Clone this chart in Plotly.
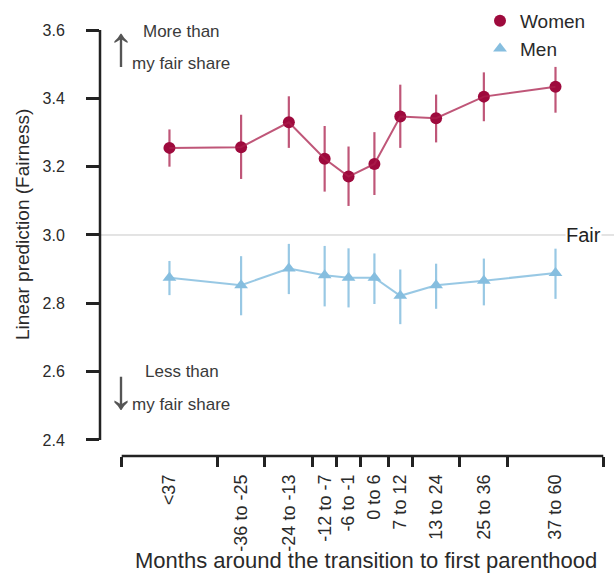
import plotly.graph_objects as go

# ---- data ----
bin_edges = [-60, -36, -24, -12, -6, 0, 7, 13, 25, 37, 61]
tick_labels = ["<37", "-36 to -25", "-24 to -13", "-12 to -7", "-6 to -1",
               "0 to 6", "7 to 12", "13 to 24", "25 to 36", "37 to 60"]

women = [3.255, 3.257, 3.330, 3.223, 3.171, 3.208, 3.347, 3.342, 3.405, 3.434]
women_lo = [3.200, 3.164, 3.255, 3.127, 3.085, 3.117, 3.255, 3.271, 3.333, 3.358]
women_hi = [3.309, 3.352, 3.406, 3.319, 3.259, 3.301, 3.440, 3.411, 3.476, 3.492]

men = [2.875, 2.853, 2.902, 2.882, 2.875, 2.875, 2.822, 2.853, 2.866, 2.889]
men_lo = [2.824, 2.765, 2.827, 2.791, 2.788, 2.798, 2.739, 2.784, 2.794, 2.813]
men_hi = [2.924, 2.938, 2.974, 2.968, 2.961, 2.946, 2.899, 2.916, 2.931, 2.960]

y_ticks = [2.4, 2.6, 2.8, 3.0, 3.2, 3.4, 3.6]
fair_value = 3.0

# ---- derived ----
mids = [(a + b) / 2 for a, b in zip(bin_edges[:-1], bin_edges[1:])]

W_MARK = "#9E0A3D"
W_LINE = "rgba(170,30,75,0.75)"
M_MARK = "#86BEDF"
M_LINE = "rgba(134,190,223,0.85)"
FONT = "Liberation Sans, Arial, sans-serif"
TXT = "#2a2a2a"

XR = [-65.45, 63.7]
YR = [2.3531, 3.6293]

fig = go.Figure()

fig.add_trace(go.Scatter(x=mids, y=women, mode="lines", xaxis="x2",
                         line=dict(color=W_LINE, width=2), showlegend=False,
                         hoverinfo="skip"))
fig.add_trace(go.Scatter(x=mids, y=men, mode="lines", xaxis="x2",
                         line=dict(color=M_LINE, width=2), showlegend=False,
                         hoverinfo="skip"))

fig.add_trace(go.Scatter(
    x=mids, y=women, mode="markers", name="Women",
    marker=dict(symbol="circle", size=12, color=W_MARK),
    error_y=dict(type="data", symmetric=False,
                 array=[h - v for h, v in zip(women_hi, women)],
                 arrayminus=[v - l for v, l in zip(women, women_lo)],
                 color=W_LINE, thickness=2.2, width=0)))
fig.add_trace(go.Scatter(
    x=mids, y=men, mode="markers", name="Men",
    marker=dict(symbol="triangle-up", size=12, color=M_MARK),
    error_y=dict(type="data", symmetric=False,
                 array=[h - v for h, v in zip(men_hi, men)],
                 arrayminus=[v - l for v, l in zip(men, men_lo)],
                 color=M_LINE, thickness=2.2, width=0)))

shapes = [
    # fair reference line
    dict(type="line", xref="paper", yref="y", x0=0, x1=1, y0=fair_value, y1=fair_value,
         line=dict(color="#C8C8C8", width=1), layer="below"),
    # y axis line (detached style)
    dict(type="line", xref="paper", yref="y", x0=0, x1=0, y0=y_ticks[0], y1=y_ticks[-1],
         line=dict(color="#222222", width=2.5)),
    # x axis line
    dict(type="line", xref="x", yref="paper", x0=bin_edges[0], x1=bin_edges[-1], y0=0, y1=0,
         line=dict(color="#222222", width=2.5)),
]

def px(xp):
    return (xp - 100) / 514.0

def py(yp):
    return (456 - yp) / 436.0

annotations = [
    dict(text="Fair", x=px(583), y=fair_value, xref="paper", yref="y", showarrow=False,
         font=dict(size=20, color="#222222", family=FONT), bgcolor="white",
         xanchor="center", yanchor="middle", borderpad=0),
    dict(text="↑", x=px(121), y=py(46), xref="paper", yref="paper", showarrow=False,
         font=dict(size=56, color="#555555", family=FONT), xanchor="center", yanchor="middle"),
    dict(text="More than", x=px(141), y=py(31), xref="paper", yref="paper", showarrow=False,
         font=dict(size=17, color="#3a3a3a", family=FONT), xanchor="left", yanchor="middle"),
    dict(text="my fair share", x=px(130), y=py(63), xref="paper", yref="paper", showarrow=False,
         font=dict(size=17, color="#3a3a3a", family=FONT), xanchor="left", yanchor="middle"),
    dict(text="↓", x=px(121), y=py(388), xref="paper", yref="paper", showarrow=False,
         font=dict(size=56, color="#555555", family=FONT), xanchor="center", yanchor="middle"),
    dict(text="Less than", x=px(143), y=py(371), xref="paper", yref="paper", showarrow=False,
         font=dict(size=17, color="#3a3a3a", family=FONT), xanchor="left", yanchor="middle"),
    dict(text="my fair share", x=px(130), y=py(404), xref="paper", yref="paper", showarrow=False,
         font=dict(size=17, color="#3a3a3a", family=FONT), xanchor="left", yanchor="middle"),
    dict(text="Linear prediction (Fairness)", x=px(22), y=py(225), xref="paper", yref="paper",
         showarrow=False, textangle=-90,
         font=dict(size=19, color=TXT, family=FONT), xanchor="center", yanchor="middle"),
    dict(text="Months around the transition to first parenthood", x=px(366), y=py(560),
         xref="paper", yref="paper", showarrow=False,
         font=dict(size=22, color=TXT, family=FONT), xanchor="center", yanchor="middle"),
]

fig.update_layout(
    width=614, height=574,
    margin=dict(l=100, r=0, t=20, b=118),
    paper_bgcolor="white", plot_bgcolor="white",
    font=dict(family=FONT, color=TXT),
    xaxis=dict(range=XR, tickmode="array", tickvals=bin_edges,
               ticktext=[""] * len(bin_edges), ticks="outside", ticklen=10,
               tickwidth=2.5, tickcolor="#222222", showgrid=False, zeroline=False,
               showline=False, fixedrange=True),
    xaxis2=dict(range=XR, overlaying="x", side="bottom", anchor="y",
                tickmode="array", tickvals=mids, ticktext=tick_labels,
                tickangle=-90, ticks="", ticklabelstandoff=14,
                tickfont=dict(size=18, color=TXT, family=FONT),
                showgrid=False, zeroline=False, showline=False),
    yaxis=dict(range=YR, tickmode="array", tickvals=y_ticks,
               ticktext=[f"{v:.1f}" for v in y_ticks], ticks="outside", ticklen=13,
               tickwidth=2.5, tickcolor="#222222", ticklabelstandoff=18,
               tickfont=dict(size=16, color=TXT, family=FONT),
               showgrid=False, zeroline=False, showline=False),
    legend=dict(x=px(480), y=py(2), xanchor="left", yanchor="top",
                bgcolor="rgba(0,0,0,0)", font=dict(size=19, color=TXT, family=FONT),
                tracegroupgap=0),
    shapes=shapes, annotations=annotations,
)

fig.write_html("out.html", config={"displayModeBar": False},
               post_script="document.body.style.margin='0';document.body.style.overflow='hidden';")
